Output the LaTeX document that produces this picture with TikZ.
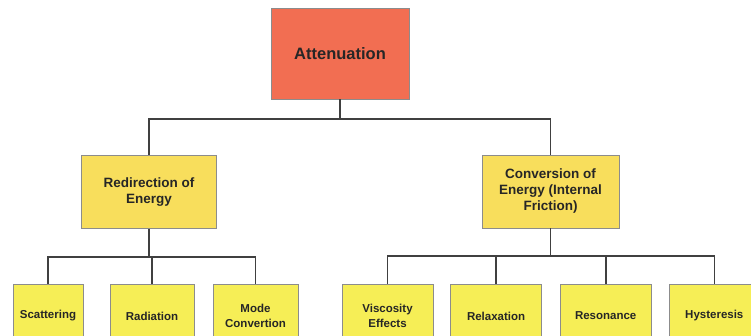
\documentclass[tikz,border=0pt]{standalone}
\usepackage{fontspec}
\setmainfont{Liberation Sans}
\usepackage{xcolor}
\usetikzlibrary{positioning,calc}

\definecolor{attred}{RGB}{242,110,82}
\definecolor{midyellow}{RGB}{248,222,92}
\definecolor{lowyellow}{RGB}{246,238,86}

\begin{document}
\begin{tikzpicture}[x=1pt, y=-1pt,
    box/.style={rectangle, draw=black!45, line width=0.6pt, align=center, text=black!85, inner sep=2pt},
    topbox/.style={box, fill=attred, minimum width=138pt, minimum height=91pt, font=\bfseries\fontsize{16.5}{19}\selectfont},
    midbox/.style={box, fill=midyellow, minimum width=135pt, minimum height=73pt, font=\bfseries\fontsize{13.5}{16}\selectfont},
    leafbox/.style={box, fill=lowyellow, minimum width=91pt, minimum height=64pt, font=\bfseries\fontsize{11.5}{15}\selectfont},
    link/.style={draw=black!75, line width=1.6pt}]

    \useasboundingbox (0,0) rectangle (751,336);

    % root
    \node[topbox] (att) at (340,53.5) {Attenuation};

    % second level
    \node[midbox] (redir) at (149,192) {Redirection of\\Energy};
    \node[midbox, minimum width=137pt] (conv) at (550.5,191.5) {Conversion of\\Energy (Internal\\Friction)};

    % leaves
    \node[leafbox, minimum width=70pt] (scat) at (48,316) {Scattering};
    \node[leafbox, minimum width=84pt] (radi) at (152,316) {Radiation};
    \node[leafbox, minimum width=85pt] (mode) at (255.5,316) {Mode\\Convertion};
    \node[leafbox] (visc) at (387.5,316) {Viscosity\\Effects};
    \node[leafbox, right=17pt of visc] (relax) {Relaxation};
    \node[leafbox, right=18pt of relax] (reson) {Resonance};
    \node[leafbox, right=17pt of reson] (hyst) {Hysteresis};

    % junctions
    \coordinate (j0) at ($(att.south)+(0,19.5)$);
    \coordinate (j1) at ($(redir.south)+(0,28)$);
    \coordinate (j2) at ($(conv.south)+(0,28)$);

    % tree lines
    \draw[link] (att.south) -- (j0) -| (redir.north);
    \draw[link] (j0) -| (conv.north);
    \draw[link] (redir.south) -- (j1) -| (scat.north);
    \draw[link] (j1) -| (radi.north);
    \draw[link] (j1) -| (mode.north);
    \draw[link] (conv.south) -- (j2) -| (visc.north);
    \draw[link] (j2) -| (relax.north);
    \draw[link] (j2) -| (reson.north);
    \draw[link] (j2) -| (hyst.north);

\end{tikzpicture}
\end{document}
